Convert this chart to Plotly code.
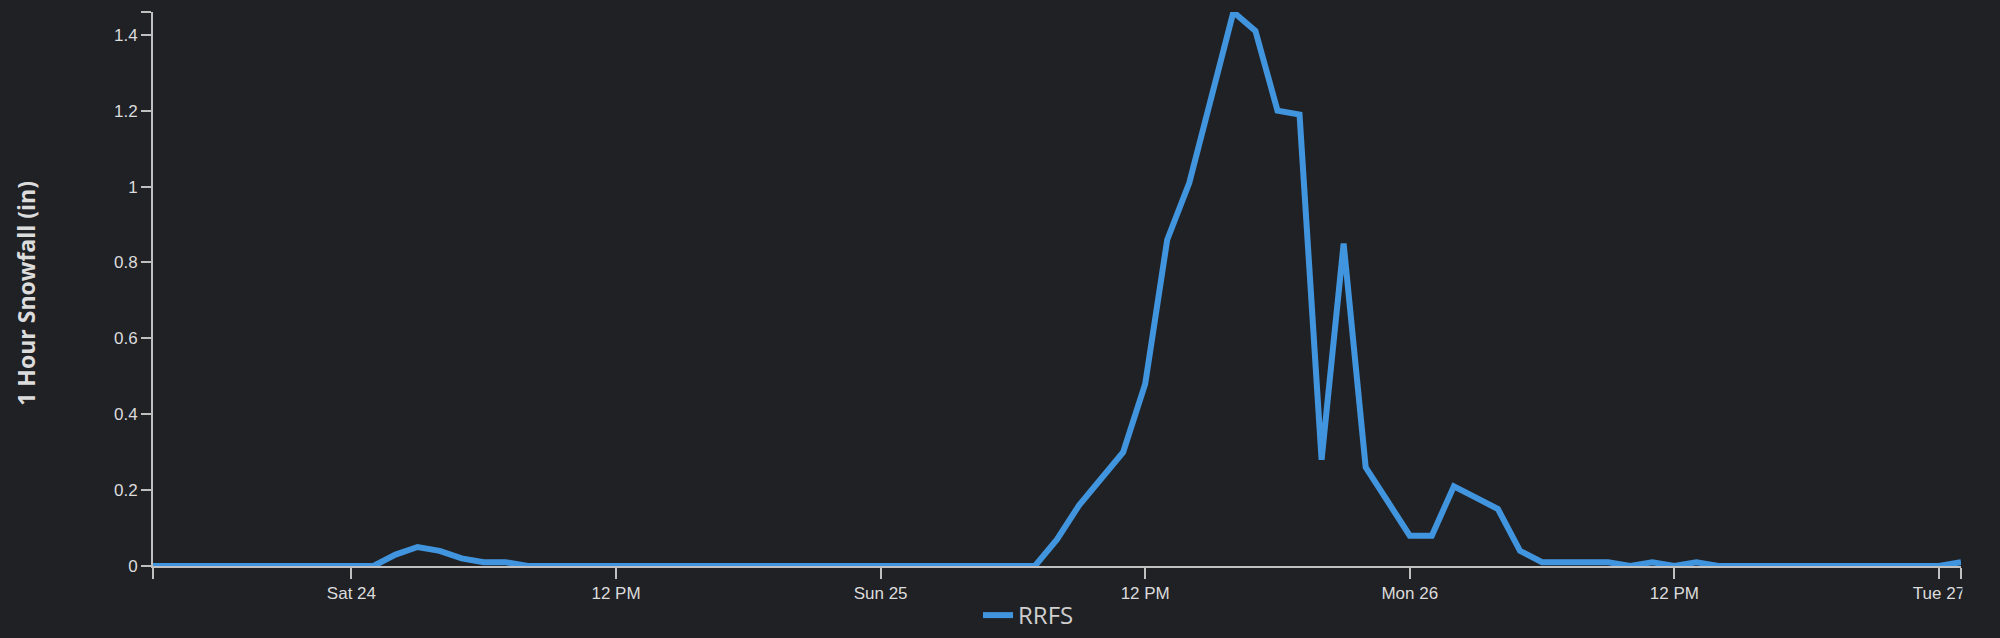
import plotly.graph_objects as go
import pandas as pd

# ---------------- data ----------------
series_name = "RRFS"
start_time = "2026-01-23 15:00"
end_time = "2026-01-27 01:00"
times = pd.date_range(start_time, end_time, freq="h")

snowfall = [
    0, 0, 0, 0, 0, 0, 0, 0, 0, 0, 0,                     # Fri 15:00 .. Sat 01:00
    0.03, 0.05, 0.04, 0.02, 0.01, 0.01,                  # Sat 02:00 .. Sat 07:00
    0, 0, 0, 0, 0, 0, 0, 0, 0, 0, 0, 0,
    0, 0, 0, 0, 0, 0, 0, 0, 0, 0, 0, 0,                  # Sat 08:00 .. Sun 07:00
    0.07, 0.16, 0.23, 0.30, 0.48, 0.86, 1.01, 1.24, 1.46, 1.41,
    1.20, 1.19, 0.28, 0.85, 0.26, 0.17, 0.08, 0.08, 0.21, 0.18,
    0.15, 0.04, 0.01, 0.01, 0.01, 0.01,                  # Sun 08:00 .. Mon 09:00
    0, 0.01, 0, 0.01,                                    # Mon 10:00 .. Mon 13:00
    0, 0, 0, 0, 0, 0, 0, 0, 0, 0, 0,                     # Mon 14:00 .. Tue 00:00
    0.01,                                                # Tue 01:00
]

x_tickvals = ["2026-01-24 00:00", "2026-01-24 12:00", "2026-01-25 00:00",
              "2026-01-25 12:00", "2026-01-26 00:00", "2026-01-26 12:00",
              "2026-01-27 00:00"]
x_ticktext = ["Sat 24", "12 PM", "Sun 25", "12 PM", "Mon 26", "12 PM", "Tue 27"]

y_tickvals = [0, 0.2, 0.4, 0.6, 0.8, 1.0, 1.2, 1.4]
y_ticktext = ["0", "0.2", "0.4", "0.6", "0.8", "1", "1.2", "1.4"]

y_title = "1 Hour Snowfall (in)"

# ---------------- style ----------------
BG = "#202125"
AXIS = "#c0c0c0"
TEXT = "#dcdcdc"
LINE = "#4195de"

y_max = max(snowfall)

fig = go.Figure()
fig.add_trace(go.Scatter(
    x=times, y=snowfall, mode="lines", name=series_name,
    line=dict(color=LINE, width=6),
))

# outer ticks at the ends of the axis domains (unlabelled)
xt_vals = [times[0]] + [pd.Timestamp(v) for v in x_tickvals] + [times[-1]]
xt_text = [""] + x_ticktext + [""]
yt_vals = y_tickvals + [y_max]
yt_text = y_ticktext + [""]

fig.update_layout(
    width=2000, height=638,
    paper_bgcolor=BG, plot_bgcolor=BG,
    margin=dict(l=153, r=39, t=12, b=72, autoexpand=False),
    showlegend=True,
    legend=dict(
        orientation="h", xref="container", yref="container",
        x=0.489, xanchor="left", y=-0.008, yanchor="bottom",
        font=dict(family="Open Sans", size=24, color="#cfcfcf"),
        bgcolor="rgba(0,0,0,0)",
    ),
    xaxis=dict(
        range=[times[0], times[-1]],
        tickmode="array", tickvals=xt_vals, ticktext=xt_text,
        showgrid=False, zeroline=False,
        showline=True, linecolor=AXIS, linewidth=2,
        ticks="outside", ticklen=11, tickwidth=2, tickcolor=AXIS,
        tickfont=dict(family="Liberation Sans", size=17, color=TEXT),
        layer="below traces",
    ),
    yaxis=dict(
        range=[0, y_max],
        tickmode="array", tickvals=yt_vals, ticktext=yt_text,
        showgrid=False, zeroline=False,
        showline=True, linecolor=AXIS, linewidth=2,
        ticks="outside", ticklen=10, tickwidth=2, tickcolor=AXIS,
        tickfont=dict(family="Liberation Sans", size=17, color=TEXT),
        layer="below traces",
    ),
    annotations=[dict(
        text=y_title, textangle=-90, showarrow=False,
        xref="paper", yref="paper",
        x=-0.0703, xanchor="center", y=0.493, yanchor="middle",
        font=dict(family="Open Sans", size=23, color=TEXT, weight="bold"),
    )],
    shapes=[dict(
        type="rect", xref="paper", yref="paper", layer="above",
        x0=1.0008, x1=1.05, y0=-0.2, y1=1.05,
        fillcolor=BG, line=dict(width=0),
    )],
)

fig.write_html("out.html", config={"displayModeBar": False},
               post_script="document.body.style.margin='0';document.body.style.overflow='hidden';")
